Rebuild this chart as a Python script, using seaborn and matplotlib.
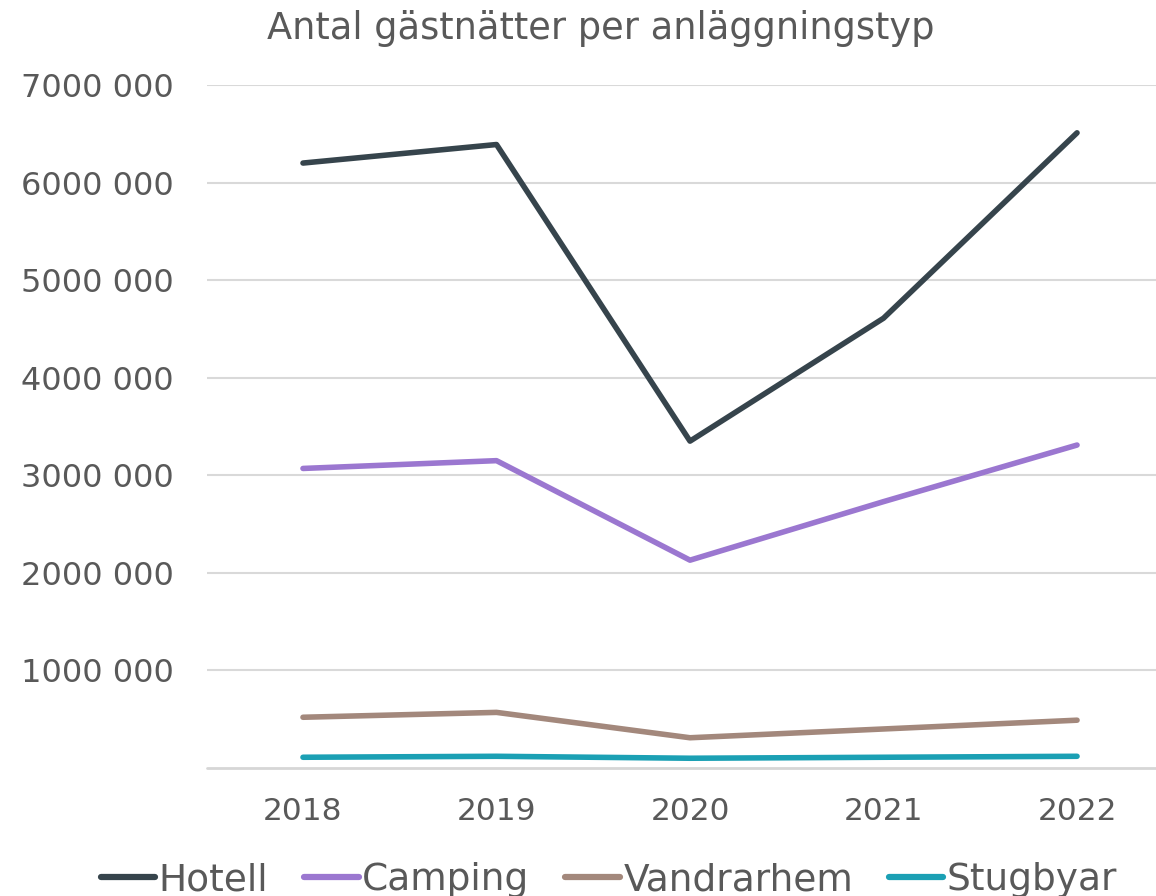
import matplotlib
matplotlib.use("Agg")
import matplotlib.pyplot as plt
import seaborn as sns
import pandas as pd
from matplotlib.ticker import FuncFormatter

years = ["2018", "2019", "2020", "2021", "2022"]
hotell = [6200000, 6390000, 3350000, 4610000, 6510000]
camping = [3070000, 3150000, 2130000, 2730000, 3310000]
vandrarhem = [520000, 570000, 310000, 400000, 490000]
stugbyar = [110000, 120000, 100000, 110000, 120000]
series_names = ["Hotell", "Camping", "Vandrarhem", "Stugbyar"]
colors = ["#36444C", "#9B77D0", "#A3887C", "#1BA0B4"]

df = pd.DataFrame({"År": years, "Hotell": hotell, "Camping": camping,
                   "Vandrarhem": vandrarhem, "Stugbyar": stugbyar})
long = df.melt(id_vars="År", var_name="Typ", value_name="Gästnätter")

sns.set_theme(style="white")
plt.rcParams['font.family'] = ['DejaVu Sans']

fig = plt.figure(figsize=(11.56, 8.96), dpi=100)
W, H = 1156, 896
ax = fig.add_axes([207 / W, 1 - 768 / H, (1156 - 207) / W, (768 - 85) / H])

sns.lineplot(data=long, x="År", y="Gästnätter", hue="Typ", hue_order=series_names,
             palette=colors, linewidth=4, ax=ax, sort=False,
             solid_capstyle="round")

ax.set_xlim(-0.496, 4.408)
ax.set_ylim(0, 7000000)
ax.set_yticks(range(1000000, 7000001, 1000000))
ax.yaxis.set_major_formatter(FuncFormatter(lambda v, p: f"{int(v/1000):d} 000"))
ax.grid(axis="y", color="#D9D9D9", linewidth=1.5)
ax.axhline(0, color="#D6D6D6", linewidth=2, zorder=0.5, clip_on=False)
for s in ax.spines.values():
    s.set_visible(False)
ax.set_xlabel("")
ax.set_ylabel("")
ax.tick_params(axis="y", length=0, labelsize=23, labelcolor="#595959", pad=24)
ax.tick_params(axis="x", length=0, labelsize=22.5, labelcolor="#595959", pad=21)

fig.text(0.52, 0.968, "Antal gästnätter per anläggningstyp", ha="center", va="center",
         fontsize=26.5, color="#595959")

handles, labels = ax.get_legend_handles_labels()
leg = ax.legend(handles, labels, loc="center",
                bbox_to_anchor=((609 - 207) / (1156 - 207), -0.164),
                ncol=4, frameon=False, fontsize=27, labelcolor="#595959",
                handlelength=1.45, handletextpad=0.1, columnspacing=0.95)
for l in leg.get_lines():
    l.set_linewidth(4.5)

fig.savefig("out.png", dpi=100)
